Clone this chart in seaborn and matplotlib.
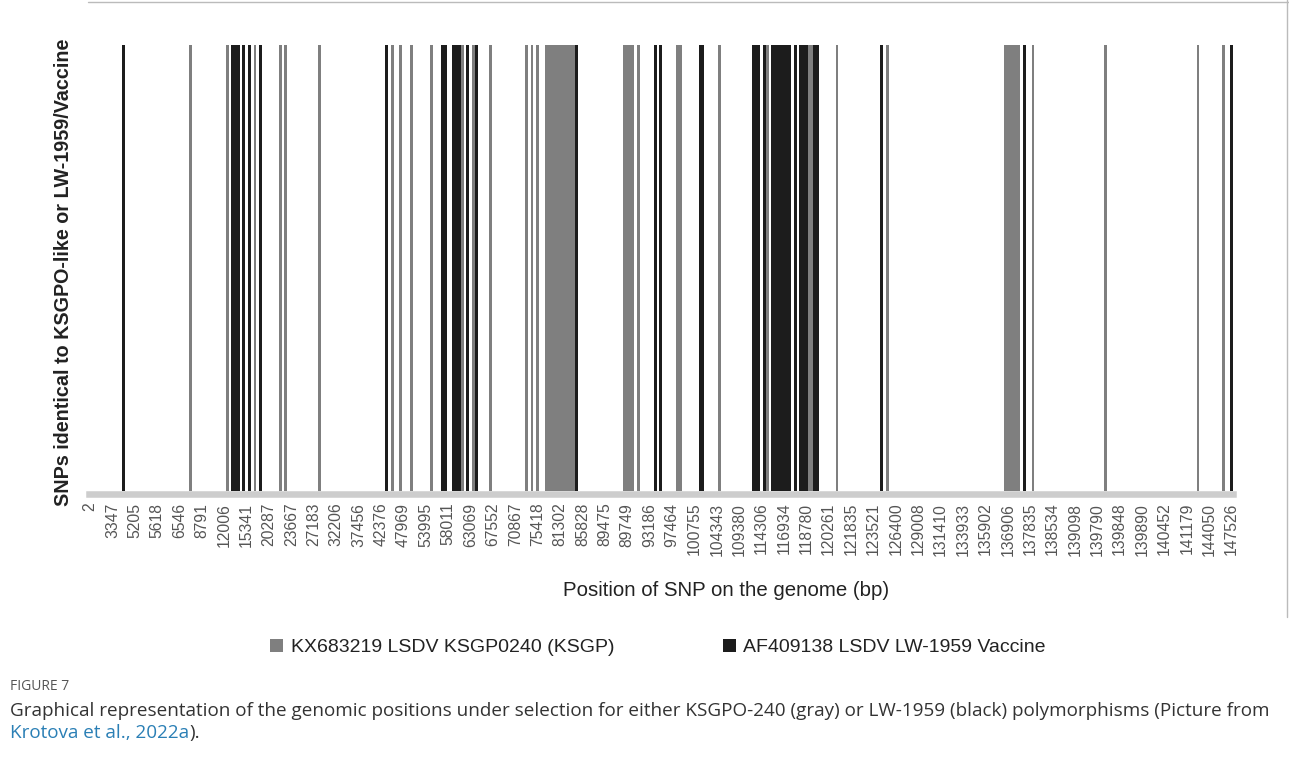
import numpy as np
import pandas as pd
import matplotlib
matplotlib.use("Agg")
import matplotlib.pyplot as plt
import seaborn as sns
from matplotlib.lines import Line2D

# SNP slots on the categorical axis (one tick label every 8 slots)
n_slots = 409
tick_labels = ['2', '3347', '5205', '5618', '6546', '8791', '12006', '15341', '20287',
               '23667', '27183', '32206', '37456', '42376', '47969', '53995', '58011',
               '63069', '67552', '70867', '75418', '81302', '85828', '89475', '89749',
               '93186', '97464', '100755', '104343', '109380', '114306', '116934',
               '118780', '120261', '121835', '123521', '126400', '129008', '131410',
               '133933', '135902', '136906', '137835', '138534', '139098', '139790',
               '139848', '139890', '140452', '141179', '144050', '147526']

# slots where the SNP is identical to KSGP (gray) or to LW-1959 vaccine (black)
ksgp_slots = [36, 49, 59, 68, 70, 82, 108, 111, 115, 122, 133, 137, 143, 156, 158, 160,
              163, 164, 165, 166, 167, 168, 169, 170, 171, 172, 173, 191, 192, 193, 194,
              196, 210, 211, 225, 242, 257, 258, 267, 285, 327, 328, 329, 330, 331, 332,
              337, 363, 396, 405]
lw_slots = [12, 51, 52, 53, 55, 57, 61, 106, 126, 127, 130, 131, 132, 135, 138, 174,
            202, 204, 218, 219, 237, 238, 239, 241, 244, 245, 246, 247, 248, 249, 250,
            252, 254, 255, 256, 259, 260, 283, 334, 408]

series_names = ['KX683219 LSDV KSGP0240 (KSGP)', 'AF409138 LSDV LW-1959 Vaccine']

rows = [(s, series_names[0], 1) for s in ksgp_slots] + [(s, series_names[1], 1) for s in lw_slots]
df = pd.DataFrame(rows, columns=['slot', 'series', 'value']).sort_values('slot')

sns.set_style("white")
plt.rcParams['font.family'] = ['Liberation Sans', 'DejaVu Sans']

fig = plt.figure(figsize=(12.89, 7.73), dpi=100)
ax = fig.add_axes([88.6 / 1289, 1 - 491 / 773, 1144.4 / 1289, 446 / 773])

sns.barplot(data=df, x='slot', y='value', hue='series', order=list(range(n_slots)),
            hue_order=series_names, palette=['#7f7f7f', '#1c1c1c'], dodge=False,
            width=1.0, linewidth=0, saturation=1, errorbar=None, ax=ax)

ax.set_xlim(-0.5, n_slots - 0.5)
ax.set_ylim(0, 1)
ax.set_yticks([])
ax.set_xticks(range(0, n_slots, 8))
ax.set_xticklabels(tick_labels)
ax.tick_params(axis='x', length=0, pad=6, labelrotation=90, labelsize=11.3,
               labelcolor='#555555')
for lab in ax.get_xticklabels():
    lab.set_family(['DejaVu Sans'])
for side in ['left', 'right', 'top']:
    ax.spines[side].set_visible(False)
ax.spines['bottom'].set_position(('outward', 2.4))
ax.spines['bottom'].set_linewidth(4.7)
ax.spines['bottom'].set_color('#cdcdcd')

ax.set_xlabel('Position of SNP on the genome (bp)', fontsize=14.7, color='#222222')
ax.xaxis.set_label_coords(0.557, -0.202)
ax.set_ylabel('SNPs identical to KSGPO-like or LW-1959/Vaccine', fontsize=14.2,
              fontweight='bold', color='#222222')
ax.yaxis.set_label_coords(-0.0135, 0.491)

sns.move_legend(ax, 'center', bbox_to_anchor=(0.5105, 0.162), bbox_transform=fig.transFigure,
                ncol=2, frameon=False, title=None, fontsize=14, handlelength=0.65,
                handleheight=0.65, handletextpad=0.4, columnspacing=5.6)
for t in ax.get_legend().get_texts():
    t.set_color('#222222')

# frame lines of the figure box
fig.add_artist(Line2D([88 / 1289, 1], [1 - 2 / 773, 1 - 2 / 773], color='#bbbbbb', lw=1,
                      transform=fig.transFigure))
fig.add_artist(Line2D([1287 / 1289, 1287 / 1289], [1, 1 - 617 / 773], color='#bbbbbb', lw=1,
                      transform=fig.transFigure))

# caption
cap_font = ['Open Sans', 'DejaVu Sans']
fig.text(10 / 1289, 1 - 687 / 773, 'FIGURE 7', fontsize=10, color='#555555', va='center',
         family=cap_font)
fig.text(10 / 1289, 1 - 711 / 773,
         'Graphical representation of the genomic positions under selection for either '
         'KSGPO-240 (gray) or LW-1959 (black) polymorphisms (Picture from',
         fontsize=13.6, color='#333333', va='center', family=cap_font)
link = fig.text(10 / 1289, 1 - 733 / 773, 'Krotova et al., 2022a', fontsize=13.6,
                color='#2a7fb5', va='center', family=cap_font)
fig.canvas.draw()
bb = link.get_window_extent()
fig.text(bb.x1 / 1289, 1 - 733 / 773, ').', fontsize=13.6, color='#333333', va='center',
         family=cap_font)

fig.savefig('out.png', dpi=100)
